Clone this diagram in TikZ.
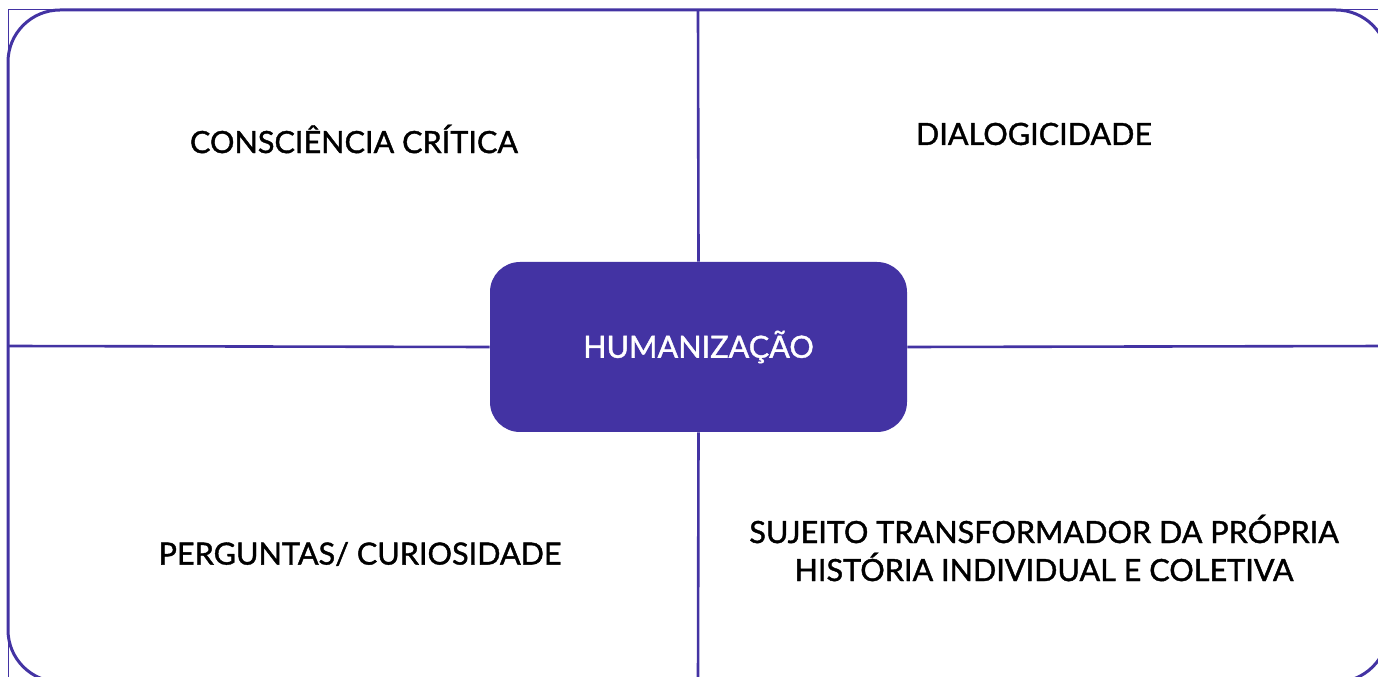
\documentclass[tikz,border=0pt]{standalone}
\usepackage{fontspec}
\setmainfont{Lato}[BoldFont={Lato}, BoldFeatures={FakeBold=1.3}]
\usepackage{tikz}

\definecolor{roxo}{RGB}{67,51,163}

\tikzset{
  rotulo/.style={font=\fontsize{15.3}{19}\selectfont\bfseries, text=black, align=center, inner sep=0pt},
  centro/.style={fill=roxo, draw=none, rounded corners=15pt, minimum width=208.5pt, minimum height=85pt,
                 font=\fontsize{15.3}{19}\selectfont\bfseries, text=white},
  divisa/.style={draw=roxo, line width=1.3pt}
}

\begin{document}
\begin{tikzpicture}[x=0.5pt,y=0.5pt]

 \useasboundingbox (0,0) rectangle (1378,676);
 \clip (0,0) rectangle (1378,676);

 % frame: thin square one and the rounded one on top
 \draw[roxo, line width=0.5pt] (8,666) rectangle (1392,-20);
 \draw[roxo, line width=1.5pt, rounded corners=26pt] (8,666) rectangle (1388,-6);

 % centre box
 \node[centro] (hum) at (698.5,329) {HUMANIZAÇÃO};

 % free ends of the dividing lines
 \coordinate (topo) at (698,666);
 \coordinate (base) at (698,-10);
 \coordinate (esq) at (8,330);
 \coordinate (dir) at (1390,330);

 \draw[divisa] (hum.north) -- (topo);
 \draw[divisa] (hum.south) -- (base);
 \draw[divisa] (hum.west) -- (esq);
 \draw[divisa] (hum.east) -- (dir);

 % the four quadrants
 \node[rotulo] (consc) at (354,537) {CONSCIÊNCIA CRÍTICA};
 \node[rotulo] (dialog) at (1034,542) {DIALOGICIDADE};
 \node[rotulo] (pergs) at (360,122) {PERGUNTAS/ CURIOSIDADE};
 \node[rotulo] (sujeito) at (1044,128) {SUJEITO TRANSFORMADOR DA PRÓPRIA\\HISTÓRIA INDIVIDUAL E COLETIVA};

\end{tikzpicture}
\end{document}
